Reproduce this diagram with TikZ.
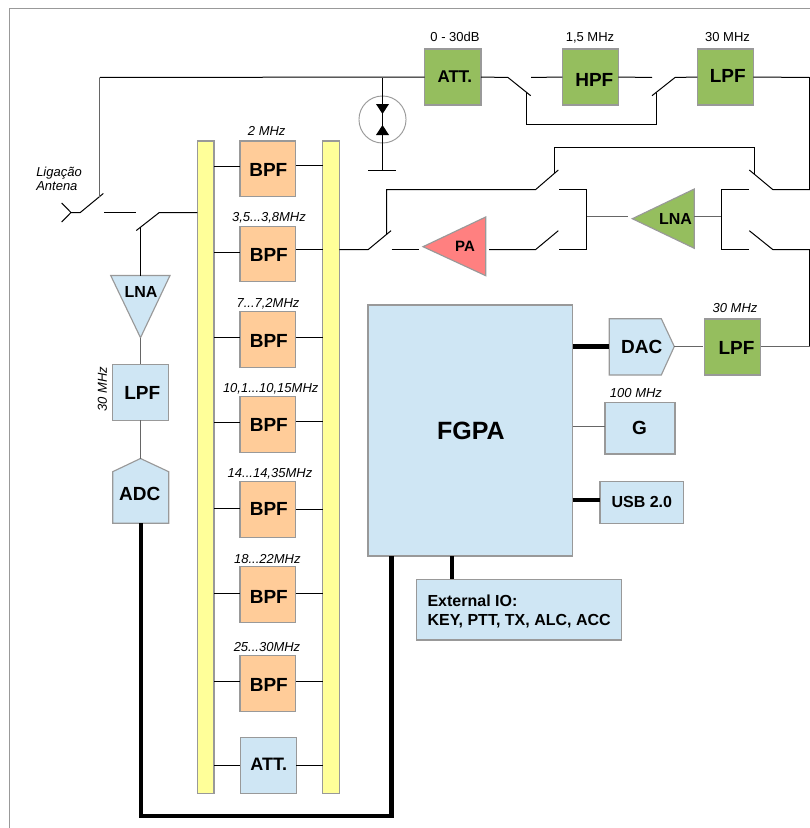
\documentclass[tikz,border=0pt]{standalone}
\usepackage{fontspec}
\setmainfont{Liberation Sans}
\newdimen\pxu \pxu=.75pt
\newcommand\off[3]{\raisebox{\dimexpr-#2\pxu-0.358em\relax}[0pt][0pt]{\makebox[0pt]{\hspace*{\dimexpr2\dimexpr#1\pxu\relax\relax}#3}}}
\newcommand\fs[1]{\fontsize{#1\pxu}{1.2\dimexpr#1\pxu\relax}\selectfont}
\definecolor{cgreen}{HTML}{95BE5E}
\definecolor{corange}{HTML}{FFCC99}
\definecolor{cblue}{HTML}{CFE6F4}
\definecolor{cyellow}{HTML}{FFFF99}
\definecolor{cred}{HTML}{FF8080}
\definecolor{cedge}{HTML}{999999}
\definecolor{cgw}{HTML}{666666}
\tikzset{
  x=.75pt,y=-.75pt,
  wire/.style={line width=.75pt,draw=black},
  gwire/.style={line width=.85pt,draw=cgw},
  bus/.style={line width=3.3pt,draw=black},
  shp/.style={draw=cedge,line width=.85pt},
  blk/.style={shp,rectangle,inner sep=0pt,outer sep=0pt,font=\bfseries\fs{19}},
  grn/.style={blk,fill=cgreen},
  org/.style={blk,fill=corange},
  blu/.style={blk,fill=cblue},
  yel/.style={blk,fill=cyellow},
  tag/.style={font=\itshape\fs{13},inner sep=0pt,text height=7pt,text depth=0pt},
  rtag/.style={font=\fs{13},inner sep=0pt,text height=7pt,text depth=0pt},
  inner/.style={font=\bfseries\fs{#1},inner sep=0pt,text height={.72*#1*.75pt},text depth=0pt},
}
\newcommand\rect[7]{\node[#2,minimum width={(#5-#3)*.75pt},minimum height={(#6-#4)*.75pt}] (#1) at ({(#3+#5)/2},{(#4+#6)/2}) {#7};}
\begin{document}
\begin{tikzpicture}
\useasboundingbox (0,0) rectangle (810,828);
\fill[white] (0,0) rectangle (810,828);
% frame
\draw[draw=cedge,line width=1.1pt] (810,8.5) -- (9.5,8.5) -- (9.5,828);

% named points
\coordinate (antT) at (61.7,203); \coordinate (antC) at (71,212.5); \coordinate (antB) at (61.7,222);
\coordinate (s1a) at (80.3,212.5); \coordinate (s1b) at (103.3,193.5); \coordinate (s1v) at (99.5,196.6);
\coordinate (top) at (99.5,77.5);
\coordinate (s1c) at (104,212.5); \coordinate (s1d) at (136,212.5);
\coordinate (s2a) at (136.3,230.5); \coordinate (s2b) at (159.3,212.5); \coordinate (s2v) at (140.5,227);
\coordinate (lnaRxTop) at (140.5,275.5); \coordinate (lnaRxTip) at (140.5,337.7);
\coordinate (adcTip) at (140.5,458.5); \coordinate (adcBot) at (140.7,523.3);
\coordinate (jn) at (382.5,77.5); \coordinate (gnd) at (382.5,170.5);
\coordinate (gndL) at (368,170.5); \coordinate (gndR) at (396,170.5);
\coordinate (s3a) at (508,77.5); \coordinate (s3b) at (530.7,95.7); \coordinate (s3v) at (526.5,92.3);
\coordinate (s3c) at (531,77.5); \coordinate (s4c) at (652,77.5);
\coordinate (s4a) at (652,95.7); \coordinate (s4b) at (675,77.5); \coordinate (s4v) at (656.5,92.5);
\coordinate (rtTop) at (809.5,77.5); \coordinate (rtMid) at (809.5,189.5);
\coordinate (s5a) at (772.7,189.5); \coordinate (s5b) at (749.3,170); \coordinate (s5v) at (754.5,174.3);
\coordinate (s6a) at (558.3,170); \coordinate (s6b) at (535.7,189.5); \coordinate (s6v) at (554.5,173.3);
\coordinate (lft) at (386.5,189.5);
\coordinate (s7a) at (391,230.7); \coordinate (s7b) at (368.3,249.5); \coordinate (s7v) at (386.5,234.4);
\coordinate (paIn) at (391.7,249.5); \coordinate (paTip) at (419.3,249.5); \coordinate (paOut) at (489,249.5);
\coordinate (s8b) at (535.7,249.5); \coordinate (s8a) at (558.3,230.7);
\coordinate (m1t) at (559,189.5); \coordinate (m1m) at (586.5,216.5); \coordinate (m1b) at (559,249.5);
\coordinate (lnaTip) at (627.7,216.5); \coordinate (lnaOut) at (694.3,216.5);
\coordinate (m2m) at (721.5,216.5);
\coordinate (m2t) at (748.7,189.5); \coordinate (m2b) at (748.7,249.5);
\coordinate (s9a) at (749.3,230.7); \coordinate (s9b) at (772.7,249.5); \coordinate (rtBot) at (809.5,249.5);
\coordinate (rtDac) at (809.5,346.5);
\coordinate (dacOut) at (674.3,346.5);
\coordinate (rxBend) at (140.7,815.7); \coordinate (fpBend) at (391.5,815.7);

% blocks
\rect{railL}{yel}{197.3}{141}{214}{793.3}{}
\rect{railR}{yel}{322.7}{141}{339.3}{793.3}{}
\rect{b1}{org}{240}{141}{295.7}{196.7}{\off{.5}{1}{BPF}}
\rect{b2}{org}{240}{226.3}{295.7}{281.7}{\off{1}{.5}{BPF}}
\rect{b3}{org}{240}{311.7}{295.7}{367.3}{\off{1}{1}{BPF}}
\rect{b4}{org}{240}{396.7}{295.7}{452.3}{\off{1}{.5}{BPF}}
\rect{b5}{org}{240}{481.7}{295.7}{537.3}{\off{1}{-1}{BPF}}
\rect{b6}{org}{240}{566.7}{295.7}{622.7}{\off{1}{2}{BPF}}
\rect{b7}{org}{240}{655.3}{295.7}{711.3}{\off{1}{1.5}{BPF}}
\rect{attS}{blu}{240.3}{737.7}{296.3}{793.3}{\off{.5}{-1.4}{\fs{18}ATT.}}
\rect{att}{grn}{424.7}{49}{481}{105}{\off{2}{-1}{\fs{17}ATT.}}
\rect{hpf}{grn}{562.3}{49}{618.3}{105}{\off{4}{2.3}{HPF}}
\rect{lpf}{grn}{697.3}{49}{753.3}{105}{\off{2.5}{-1}{LPF}}
\rect{fpga}{blu}{368}{305}{572.7}{556}{\off{.5}{2}{\fs{25}FGPA}}
\rect{lpfT}{grn}{704.3}{319}{760.7}{375}{\off{4}{.5}{LPF}}
\rect{g}{blu}{605}{402.7}{675}{454}{\off{-.5}{-.5}{G}}
\rect{usb}{blu}{600}{481.7}{683.7}{523.3}{\off{0}{-1.5}{\fs{16}USB 2.0}}
\rect{lpfR}{blu}{112.7}{364.3}{168.7}{420.3}{\off{1.5}{0}{LPF}}
\rect{ext}{blu}{416.7}{579.3}{621.7}{640}{}
\node[inner=16,anchor=west,align=left] (extT) at (427.3,600.7) {External IO:};
\node[inner=16,anchor=west,align=left] (extB) at (427.3,619.5) {KEY, PTT, TX, ALC, ACC};

% polygons with their text
\draw[shp,fill=cblue] (110.7,275.5) -- (170,275.5) -- (lnaRxTip) -- cycle;
\node[inner=16] (lnaR) at (141,291.7) {LNA};
\draw[shp,fill=cblue] (112.7,523.3) -- (112.7,471.7) -- (adcTip) -- (168.7,471.7) -- (168.7,523.3) -- cycle;
\node[inner=19] (adc) at (139.7,494) {ADC};
\draw[shp,fill=cblue] (609.3,318.7) -- (661.3,318.7) -- (dacOut) -- (661.3,375) -- (609.3,375) -- cycle;
\node[inner=19] (dac) at (641.7,346.7) {DAC};
\draw[shp,fill=cred] (423,246.7) -- (485.7,217) -- (485.7,275.7) -- cycle;
\node[inner=15] (pa) at (465,246.5) {PA};
\draw[shp,fill=cgreen] (632.3,218.7) -- (694.3,189) -- (694.3,248.3) -- cycle;
\node[inner=16] (lnaT) at (675.5,218.7) {LNA};

% diodes
\node[draw=cedge,line width=.7pt,circle,minimum size=35.3pt,inner sep=0pt,fill=white] (lim) at (382.5,119.5) {};
\draw[wire] (jn) -- (gnd);
\fill[black] (376,104) -- (389,104) -- (382.5,114) -- cycle;
\fill[black] (376,135) -- (389,135) -- (382.5,125) -- cycle;
\draw[wire] (gndL) -- (gndR);

% wires
\draw[wire] (antT) -- (antC) -- (antB);
\draw[wire] (antC) -- (s1a) -- (s1b);
\draw[gwire] (s1v) -- (top);
\draw[wire] (top) -- (att.west);
\draw[wire] (s1c) -- (s1d);
\draw[wire] (s2a) -- (s2b) -- (railL.west |- s2b);
\draw[wire] (s2v) -- (lnaRxTop);
\draw[gwire] (lnaRxTip) -- (lpfR.north -| lnaRxTip);
\draw[gwire] (lpfR.south -| lnaRxTip) -- (adcTip);
\draw[bus] (adcBot) -- (rxBend) -- (fpBend) -- (fpBend |- fpga.south);
\draw[wire] (att.east) -- (s3a) -- (s3b);
\draw[wire] (s3v) -- (526.5,124.5) -- (656.5,124.5) -- (s4v);
\draw[wire] (s3c) -- (hpf.west);
\draw[wire] (hpf.east) -- (s4c);
\draw[wire] (s4a) -- (s4b) -- (lpf.west);
\draw[wire] (lpf.east) -- (rtTop) -- (rtMid) -- (s5a) -- (s5b);
\draw[wire] (s5v) -- (754.5,147.5) -- (554.5,147.5) -- (s6v);
\draw[wire] (s6a) -- (s6b) -- (lft) -- (s7v);
\draw[wire] (s7a) -- (s7b) -- (railR.east |- s7b);
\draw[wire] (paIn) -- (paTip);
\draw[wire] (paOut) -- (s8b) -- (s8a);
\draw[wire] (m1t) -- (m1t -| m1m) -- (m1b -| m1m) -- (m1b);
\draw[gwire] (m1m) -- (lnaTip);
\draw[gwire] (lnaOut) -- (m2m);
\draw[wire] (m2t) -- (m2t -| m2m) -- (m2b -| m2m) -- (m2b);
\draw[wire] (s9a) -- (s9b) -- (rtBot) -- (rtDac);
\draw[gwire] (rtDac) -- (lpfT.east |- rtDac);
\draw[gwire] (dacOut) -- (702.7,346.5);
\draw[bus] (fpga.east |- dacOut) -- (609.3,346.5);
\draw[gwire] (fpga.east |- 0,426.5) -- (g.west |- 0,426.5);
\draw[bus] (fpga.east |- 0,500) -- (usb.west |- 0,500);
\draw[bus,line width=3pt] (451.7,556) -- (ext.north -| 451.7,0);

% BPF stubs
\draw[wire] (railL.east |- 0,166.5) -- (b1.west |- 0,166.5);
\draw[wire] (b1.east |- 0,165.5) -- (railR.west |- 0,165.5);
\draw[wire] (railL.east |- 0,252.5) -- (b2.west |- 0,252.5);
\draw[wire] (b2.east |- 0,249.5) -- (railR.west |- 0,249.5);
\draw[wire] (railL.east |- 0,337.5) -- (b3.west |- 0,337.5);
\draw[wire] (b3.east |- 0,337.5) -- (railR.west |- 0,337.5);
\draw[wire] (railL.east |- 0,422.5) -- (b4.west |- 0,422.5);
\draw[wire] (b4.east |- 0,421.5) -- (railR.west |- 0,421.5);
\draw[wire] (railL.east |- 0,508.5) -- (b5.west |- 0,508.5);
\draw[wire] (b5.east |- 0,509.5) -- (railR.west |- 0,509.5);
\draw[wire] (railL.east |- 0,593.5) -- (b6.west |- 0,593.5);
\draw[wire] (b6.east |- 0,593.5) -- (railR.west |- 0,593.5);
\draw[wire] (railL.east |- 0,681.5) -- (b7.west |- 0,681.5);
\draw[wire] (b7.east |- 0,681.5) -- (railR.west |- 0,681.5);
\draw[wire] (railL.east |- 0,765.5) -- (attS.west |- 0,765.5);
\draw[wire] (attS.east |- 0,765.5) -- (railR.west |- 0,765.5);

% labels
\node[tag] (t1) at (266.7,131.3) {2 MHz};
\node[tag] (t2) at (269,217.3) {3,5...3,8MHz};
\node[tag] (t3) at (268,302.7) {7...7,2MHz};
\node[tag] (t4) at (270.7,388) {10,1...10,15MHz};
\node[tag] (t5) at (270,472.7) {14...14,35MHz};
\node[tag] (t6) at (267.3,558.7) {18...22MHz};
\node[tag] (t7) at (267,646.7) {25...30MHz};
\node[rtag] (t8) at (455,37) {0 - 30dB};
\node[rtag] (t9) at (590,37) {1,5 MHz};
\node[rtag] (t10) at (727.5,37) {30 MHz};
\node[tag] (t11) at (735,308) {30 MHz};
\node[tag] (t12) at (636,392.7) {100 MHz};
\node[tag,rotate=90] (t13) at (102.3,389) {30 MHz};
\node[font=\itshape\fs{13},inner sep=0pt,align=left,anchor=west] (t14) at (36,178.5) {Ligação\\[-1.2pt]Antena};
\end{tikzpicture}
\end{document}
